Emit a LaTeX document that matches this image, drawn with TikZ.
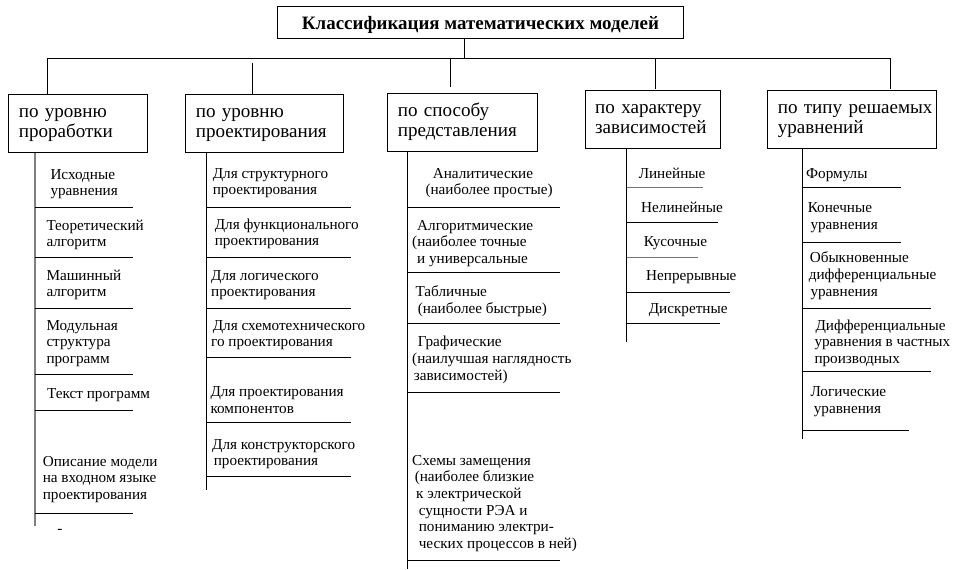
\documentclass[tikz,border=0pt]{standalone}
\usepackage{fontspec}
\setmainfont{Liberation Serif}
\usetikzlibrary{calc}
\newdimen\pxu \pxu=0.75pt
\newcommand\ind[1]{\hspace*{#1\pxu}}
\newcommand\ml[1]{\vtop{\baselineskip=12.5pt\lineskiplimit=-20pt\lineskip=0pt\halign{##\hfil\cr#1\crcr}}}
\begin{document}
\begin{tikzpicture}[x=0.75pt,y=-0.75pt,line width=0.75pt,
  titlebox/.style={draw,anchor=north west,inner sep=0pt,minimum width=304.5pt,minimum height=24.2pt,
    text height=17.5pt,text depth=6.7pt,font=\fontsize{14.2}{15}\selectfont\bfseries},
  hdr/.style={draw,anchor=north west,inner xsep=7.5pt,inner ysep=0pt,text height=16.9pt,text depth=26.6pt,
    align=left,font=\fontsize{14.3}{15}\selectfont},
  item/.style={anchor=base west,inner sep=0pt,font=\fontsize{11.4}{12.5}\selectfont},
  sep/.style={line width=0.75pt},
  graysep/.style={line width=0.9pt,draw=black!55},
  grayline/.style={line width=1.4pt,draw=black!50}]
\useasboundingbox (0,0) rectangle (961,569);

% title
\node[titlebox] (title) at (277,6) {Классификация математических моделей};

% headers
\node[hdr,text width=89.25pt] (h1) at (8.3,94.3) {по~уровню\\проработки};
\node[hdr,text width=103.5pt] (h2) at (185.3,94.3) {по~уровню\\проектирования};
\node[hdr,text width=97.5pt] (h3) at (387.3,93.3) {по~способу\\представления};
\node[hdr,text width=86.7pt] (h4) at (584.7,90) {по~характеру\\зависимостей};
\node[hdr,text width=111.5pt] (h5) at (767.3,90) {по~типу~решаемых\\уравнений};

% bus
\coordinate (tx) at (464,58);
\coordinate (b1) at (47,58);
\coordinate (b2) at (252,63);
\coordinate (b3) at (450.7,58);
\coordinate (b3e) at (450.7,87.3);
\coordinate (b4) at (655.7,58);
\coordinate (b5) at (890,58);
\draw (title.south -| tx) -- (tx);
\draw (b1) -- (b5);
\draw (b1) -- (b1 |- h1.north);
\draw (b2) -- (b2 |- h2.north);
\draw (b3) -- (b3e);
\draw (b4) -- ($(b4 |- h4.north)+(0,-1)$);
\draw (b5) -- ($(b5 |- h5.north)+(0,-0.7)$);

% column lines
\coordinate (c1) at (35,526);
\coordinate (c2) at (206.7,490);
\coordinate (c3) at (407,569);
\coordinate (c4) at (626.7,341.7);
\coordinate (c5) at (802.7,439.3);
\draw[grayline] (h1.south -| c1) -- (c1);
\draw (h2.south -| c2) -- (c2);
\draw (h3.south -| c3) -- (c3);
\draw (h4.south -| c4) -- (c4);
\draw (h5.south -| c5) -- (c5);

% separators
\foreach \y in {207.3,257.3,308.3,374.3,410.3,513.3} \draw[sep] (35,\y) -- (133.3,\y);
\foreach \y in {207.3,257.3,308,357.5,422.7,476} \draw[sep] (206.7,\y) -- (350.7,\y);
\foreach \y in {207.3,272.3,323.3,392.5,560} \draw[sep] (407,\y) -- (560,\y);
\draw[graysep] (626.7,187.3) -- (703.3,187.3);
\draw[sep] (626.7,222) -- (718.3,222);
\draw[graysep] (626.7,257.3) -- (698.3,257.3);
\draw[sep] (626.7,292.7) -- (730,292.7);
\draw[sep] (626.7,323.3) -- (720,323.3);
\foreach \y/\e in {187.3/900.7,242/900.7,308.3/930.7,371.7/930.7,430/909.3} \draw[sep] (802.7,\y) -- (\e,\y);

% column 1
\node[item] (i11) at (50,179) {\ml{Исходные\cr уравнения}};
\node[item] (i12) at (46,230) {\ml{Теоретический\cr алгоритм}};
\node[item] (i13) at (46,280) {\ml{Машинный\cr алгоритм}};
\node[item] (i14) at (46,330) {\ml{Модульная\cr структура\cr программ}};
\node[item] (i15) at (46.7,398.3) {Текст программ};
\node[item] (i16) at (42.3,466) {\ml{Описание модели\cr на входном языке\cr проектирования}};
\node[item] (i17) at (57,533) {-};

% column 2
\node[item] (i21) at (212.3,178.3) {\ml{Для структурного\cr проектирования}};
\node[item] (i22) at (214.3,229.3) {\ml{Для функционального\cr проектирования}};
\node[item] (i23) at (210.7,280) {\ml{Для логического\cr проектирования}};
\node[item] (i24) at (210.7,330) {\ml{\ind{1.6}Для схемотехнического\cr го проектирования}};
\node[item] (i25) at (210,396.7) {\ml{Для проектирования\cr компонентов}};
\node[item] (i26) at (211.7,449.3) {\ml{Для конструкторского\cr\ind{1.6}проектирования}};

% column 3
\node[item] (i31) at (425,178.3) {\ml{\ind{7.3}Аналитические\cr (наиболее простые)}};
\node[item] (i32) at (411.7,230) {\ml{\ind{5}Алгоритмические\cr (наиболее точные\cr\ind{5}и универсальные}};
\node[item] (i33) at (415,296.7) {\ml{Табличные\cr\ind{2.3}(наиболее быстрые)}};
\node[item] (i34) at (411.7,346.7) {\ml{\ind{5.6}Графические\cr (наилучшая наглядность\cr\ind{1.6}зависимостей)}};
\node[item] (i35) at (411.7,465) {\ml{Схемы замещения\cr\ind{2.6}(наиболее близкие\cr\ind{4}к электрической\cr\ind{6.6}сущности РЭА и\cr\ind{6.6}пониманию электри-\cr\ind{6.6}ческих процессов в ней)}};

% column 4
\node[item] (i41) at (638.3,178.3) {Линейные};
\node[item] (i42) at (640.7,212.7) {Нелинейные};
\node[item] (i43) at (643.3,246) {Кусочные};
\node[item] (i44) at (645.7,280) {Непрерывные};
\node[item] (i45) at (648.3,313.3) {Дискретные};

% column 5
\node[item] (i51) at (805.7,178.3) {Формулы};
\node[item] (i52) at (807.3,212.7) {\ml{Конечные\cr\ind{2.7}уравнения}};
\node[item] (i53) at (808.3,262.7) {\ml{\ind{1}Обыкновенные\cr дифференциальные\cr\ind{1.7}уравнения}};
\node[item] (i54) at (814,330) {\ml{\ind{1}Дифференциальные\cr уравнения в частных\cr производных}};
\node[item] (i55) at (810,396.7) {\ml{Логические\cr\ind{3.3}уравнения}};
\end{tikzpicture}
\end{document}
